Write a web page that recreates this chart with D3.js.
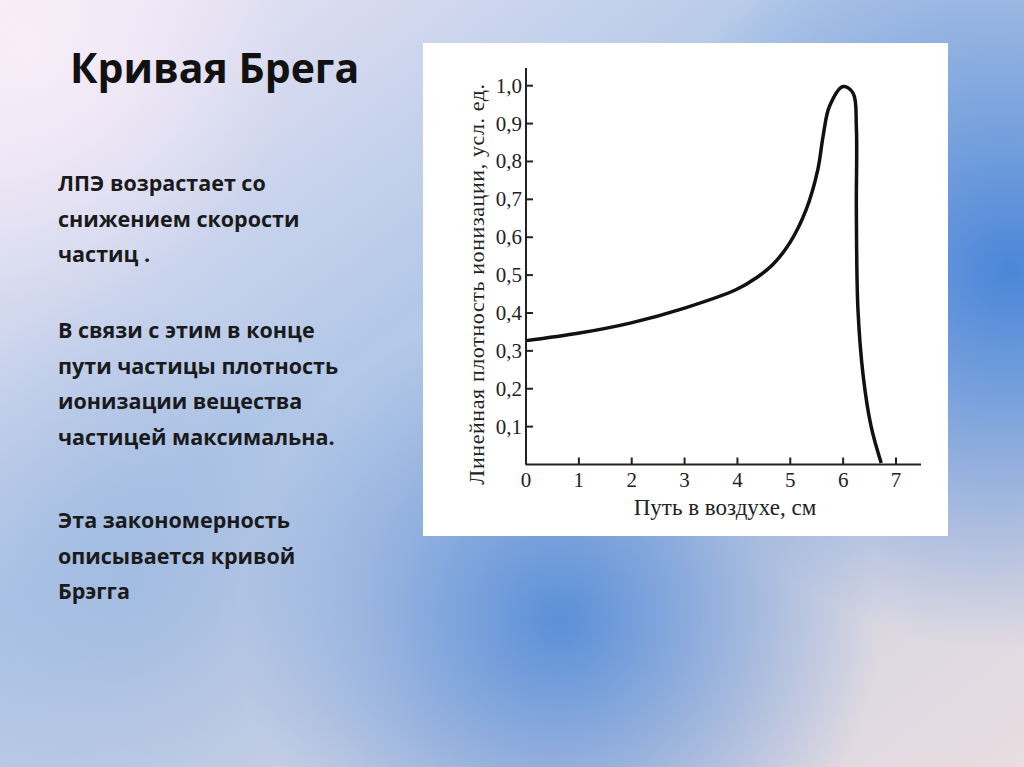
<!DOCTYPE html>
<html><head><meta charset="utf-8">
<script src="https://cdn.jsdelivr.net/npm/d3@7"></script>
<style>body{margin:0;overflow:hidden}</style>
</head><body>
<svg id="slide" width="1024" height="767"></svg>
<script>
var pathX = [0, 1.01, 1.99, 3.0, 3.98, 4.36, 4.67, 4.99, 5.3, 5.52, 5.62, 5.74, 6.0, 6.19, 6.25, 6.25, 6.28, 6.38, 6.53, 6.72];
var pathY = [0.327, 0.347, 0.374, 0.413, 0.462, 0.493, 0.528, 0.585, 0.673, 0.778, 0.866, 0.945, 0.998, 0.98, 0.89, 0.673, 0.41, 0.233, 0.10, 0.004];
var xTicks = [0, 1, 2, 3, 4, 5, 6, 7];
var yTicks = [0.1, 0.2, 0.3, 0.4, 0.5, 0.6, 0.7, 0.8, 0.9, 1.0];
var bodyLines = [
  ["ЛПЭ возрастает со", "снижением скорости", "частиц ."],
  ["В связи с этим в конце", "пути частицы плотность", "ионизации вещества", "частицей максимальна."],
  ["Эта закономерность", "описывается кривой", "Брэгга"]
];

var svg = d3.select("#slide");
var defs = svg.append("defs");

// background
var lg = defs.append("linearGradient").attr("id", "bg").attr("x1", 0).attr("y1", 0).attr("x2", 1).attr("y2", 1);
lg.append("stop").attr("offset", "0").attr("stop-color", "#f3e9f5");
lg.append("stop").attr("offset", "0.4").attr("stop-color", "#b3c8e8");
lg.append("stop").attr("offset", "1").attr("stop-color", "#e9dde0");
svg.append("rect").attr("width", 1024).attr("height", 767).attr("fill", "url(#bg)");
function blob(id, cx, cy, r, col, op) {
  var rg = defs.append("radialGradient").attr("id", id);
  rg.append("stop").attr("offset", "0").attr("stop-color", col).attr("stop-opacity", op);
  rg.append("stop").attr("offset", "1").attr("stop-color", col).attr("stop-opacity", 0);
  svg.append("circle").attr("cx", cx).attr("cy", cy).attr("r", r).attr("fill", "url(#" + id + ")");
}
blob("b1", 1010, 270, 380, "#4a86d8", 1);
blob("b2", 560, 620, 320, "#4f88d6", 0.9);
blob("b3", 130, 580, 280, "#92b0db", 0.55);
blob("b4", 30, 50, 260, "#fbeefa", 0.85);

// left text
svg.append("text").attr("x", 70).attr("y", 83)
  .style("font-family", "'Open Sans', sans-serif").style("font-weight", "bold")
  .style("font-size", "41px").attr("fill", "#111").text("Кривая Брега");
var starts = [191, 338, 528];
bodyLines.forEach(function(par, i) {
  par.forEach(function(line, j) {
    svg.append("text").attr("x", 58).attr("y", starts[i] + j * 35.5)
      .style("font-family", "'Open Sans', sans-serif").style("font-weight", "bold")
      .style("font-size", "21.5px").attr("fill", "#1a1a1a").text(line);
  });
});

// chart panel
svg.append("rect").attr("x", 423).attr("y", 43).attr("width", 525).attr("height", 493).attr("fill", "#fff");

var x = d3.scaleLinear().domain([0, 7]).range([526, 896]);
var y = d3.scaleLinear().domain([0, 1]).range([464.5, 85.7]);
var serif = "'Liberation Serif', 'DejaVu Serif', serif";

var g = svg.append("g").attr("stroke", "#222").attr("stroke-width", 2);
g.append("line").attr("x1", x(0)).attr("x2", 921).attr("y1", y(0)).attr("y2", y(0));
g.append("line").attr("x1", x(0)).attr("x2", x(0)).attr("y1", y(0)).attr("y2", 68);
g.selectAll(".xt").data(xTicks).enter().append("line")
  .attr("x1", d => x(d)).attr("x2", d => x(d)).attr("y1", y(0)).attr("y2", y(0) - 7);
g.selectAll(".yt").data(yTicks).enter().append("line")
  .attr("x1", x(0)).attr("x2", x(0) + 7).attr("y1", d => y(d)).attr("y2", d => y(d));

svg.selectAll(".xl").data(xTicks).enter().append("text")
  .attr("x", d => x(d)).attr("y", 487).attr("text-anchor", "middle")
  .style("font-family", serif).style("font-size", "21px").attr("fill", "#222").text(d => d);
svg.selectAll(".yl").data(yTicks).enter().append("text")
  .attr("x", 522).attr("y", d => y(d) + 7).attr("text-anchor", "end")
  .style("font-family", serif).style("font-size", "21px").attr("fill", "#222")
  .text(d => d.toFixed(1).replace(".", ","));

svg.append("text").attr("x", 725).attr("y", 515).attr("text-anchor", "middle")
  .style("font-family", serif).style("font-size", "23px").attr("fill", "#222").text("Путь в воздухе, см");
svg.append("text").attr("transform", "translate(484,284) rotate(-90)").attr("text-anchor", "middle")
  .style("font-family", serif).style("font-size", "22px").style("letter-spacing", "0.6px").attr("fill", "#222")
  .text("Линейная плотность ионизации, усл. ед.");

var pts = pathX.map((v, i) => [v, pathY[i]]);
svg.append("path").datum(pts)
  .attr("d", d3.line().x(d => x(d[0])).y(d => y(d[1])).curve(d3.curveCatmullRom.alpha(0.5)))
  .attr("fill", "none").attr("stroke", "#111").attr("stroke-width", 3.5);
</script>
</body></html>
